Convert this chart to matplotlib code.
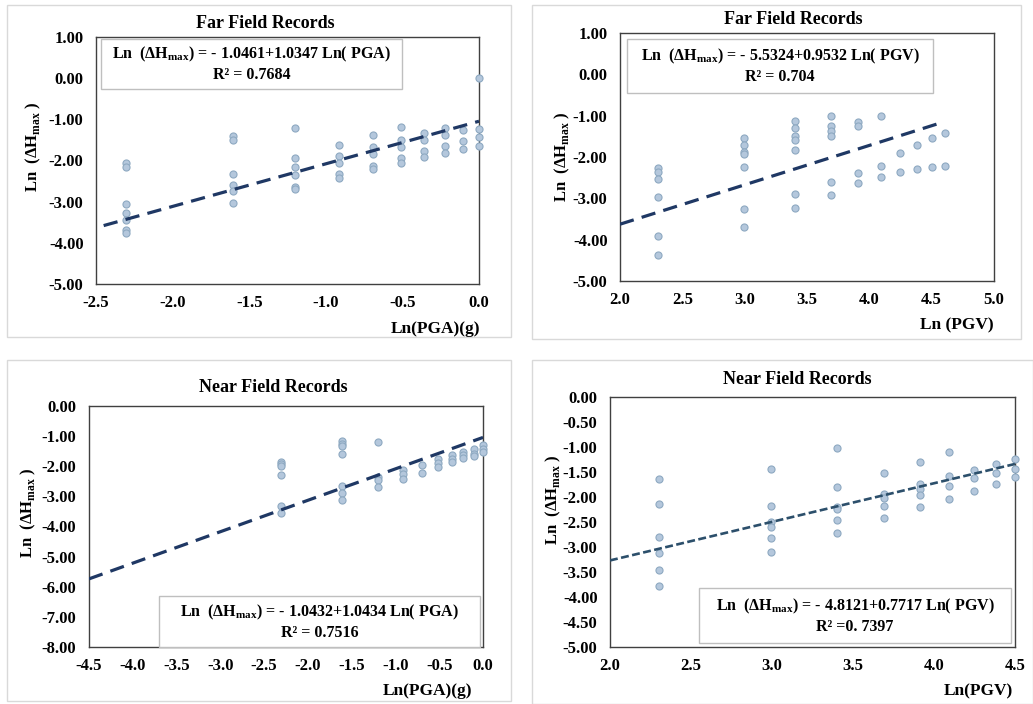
import matplotlib
matplotlib.use("Agg")
import matplotlib.pyplot as plt
from matplotlib.patches import Rectangle

plt.rcParams["font.family"] = ["Liberation Serif", "DejaVu Serif"]
plt.rcParams["font.weight"] = "bold"
plt.rcParams["mathtext.fontset"] = "custom"
plt.rcParams["mathtext.rm"] = "Liberation Serif:bold"

W, H = 1033, 704

# ---- data ----
# Far field, ln(PGA)
ff_pga_x = [-2.303] * 7 + [-1.609] * 6 + [-1.204] * 6 + [-0.916] * 5 + [-0.693] * 5 \
    + [-0.511] * 5 + [-0.357] * 4 + [-0.223] * 4 + [-0.105] * 3 + [0.0] * 4
ff_pga_y = [-2.07, -2.17, -3.06, -3.28, -3.44, -3.68, -3.75,
            -1.41, -1.51, -2.34, -2.59, -2.75, -3.04,
            -1.20, -1.93, -2.17, -2.35, -2.65, -2.70,
            -1.63, -1.89, -2.07, -2.34, -2.43,
            -1.38, -1.67, -1.85, -2.13, -2.21,
            -1.18, -1.50, -1.67, -1.95, -2.05,
            -1.34, -1.50, -1.76, -1.92,
            -1.20, -1.37, -1.64, -1.82,
            -1.26, -1.52, -1.73,
            0.0, -1.23, -1.43, -1.64]

# Far field, ln(PGV)
ff_pgv_x = [2.303] * 6 + [2.996] * 7 + [3.401] * 7 + [3.689] * 6 + [3.912] * 4 \
    + [4.094] * 3 + [4.248] * 2 + [4.382] * 2 + [4.500] * 2 + [4.605] * 2
ff_pgv_y = [-2.26, -2.37, -2.53, -2.96, -3.91, -4.38,
            -1.54, -1.70, -1.87, -1.92, -2.23, -3.26, -3.69,
            -1.14, -1.30, -1.50, -1.60, -1.83, -2.90, -3.24,
            -1.02, -1.25, -1.36, -1.50, -2.61, -2.92,
            -1.15, -1.25, -2.38, -2.64,
            -1.02, -2.21, -2.49,
            -1.90, -2.36,
            -1.71, -2.29,
            -1.55, -2.23,
            -1.43, -2.21]

# Near field, ln(PGA)
nf_pga_x = [-2.303] * 6 + [-1.609] * 7 + [-1.204] * 4 + [-0.916] * 3 + [-0.693] * 2 \
    + [-0.511] * 3 + [-0.357] * 3 + [-0.223] * 3 + [-0.105] * 3 + [0.0] * 3
nf_pga_y = [-1.86, -1.94, -1.99, -2.29, -3.31, -3.54,
            -1.16, -1.25, -1.34, -1.60, -2.65, -2.88, -3.12,
            -1.21, -2.37, -2.47, -2.70,
            -2.13, -2.27, -2.42,
            -1.95, -2.21,
            -1.76, -1.89, -2.04,
            -1.64, -1.77, -1.87,
            -1.52, -1.64, -1.74,
            -1.42, -1.58, -1.66,
            -1.28, -1.44, -1.53]

# Near field, ln(PGV)
nf_pgv_x = [2.303] * 6 + [2.996] * 6 + [3.401] * 6 + [3.689] * 5 + [3.912] * 5 \
    + [4.094] * 4 + [4.248] * 3 + [4.382] * 3 + [4.500] * 3
nf_pgv_y = [-1.64, -2.13, -2.79, -3.11, -3.45, -3.78,
            -1.43, -2.17, -2.49, -2.59, -2.81, -3.10,
            -1.02, -1.80, -2.19, -2.24, -2.46, -2.71,
            -1.52, -1.94, -2.01, -2.18, -2.42,
            -1.29, -1.73, -1.84, -1.96, -2.19,
            -1.10, -1.58, -1.78, -2.03,
            -1.45, -1.62, -1.88,
            -1.33, -1.52, -1.74,
            -1.23, -1.44, -1.60]

# regression (intercept, slope, x range)
fits = [(-1.0461, 1.0347, -2.45, 0.0),
        (-5.5324, 0.9532, 2.0, 4.6),
        (-1.0432, 1.0434, -4.5, 0.0),
        (-4.8121, 0.7717, 2.0, 4.5)]
eq_texts = ["Ln  (ΔH$_{\\mathregular{max}}$) = - 1.0461+1.0347 Ln( PGA)\nR² = 0.7684",
            "Ln  (ΔH$_{\\mathregular{max}}$) = - 5.5324+0.9532 Ln( PGV)\nR² = 0.704",
            "Ln  (ΔH$_{\\mathregular{max}}$) = - 1.0432+1.0434 Ln( PGA)\nR² = 0.7516",
            "Ln  (ΔH$_{\\mathregular{max}}$) = - 4.8121+0.7717 Ln( PGV)\nR² =0. 7397"]
titles = ["Far Field Records", "Far Field Records", "Near Field Records", "Near Field Records"]
xlabels = ["Ln(PGA)(g)", "Ln (PGV)", "Ln(PGA)(g)", "Ln(PGV)"]
xlims = [(-2.5, 0.0), (2.0, 5.0), (-4.5, 0.0), (2.0, 4.5)]
xsteps = [0.5, 0.5, 0.5, 0.5]
ylims = [(-5.0, 1.0), (-5.0, 1.0), (-8.0, 0.0), (-5.0, 0.0)]
ysteps = [1.0, 1.0, 1.0, 0.5]
data = [(ff_pga_x, ff_pga_y), (ff_pgv_x, ff_pgv_y), (nf_pga_x, nf_pga_y), (nf_pgv_x, nf_pgv_y)]

# ---- layout in pixels ----
axes_px = [(96, 37, 479, 284), (620, 33, 994, 281), (89, 406, 483, 647), (610, 397, 1015, 647)]
frame_px = [(7, 5, 511, 337), (532, 5, 1021, 339), (7, 360, 511, 701), (532, 360, 1033, 704)]
title_px = [(265, 23), (793, 20), (273, 388), (797, 379)]
xlab_px = [(435, 329), (957, 325), (427, 691), (978, 691)]
ylab_px = [(33, 147), (562, 157), (28, 513), (553, 500)]
box_px = [(101, 39, 402, 89), (627, 39, 933, 93), (159, 596, 480, 647), (699, 588, 1011, 643)]
line_styles = [dict(color="#1F3864", lw=2.3, dashes=(4.5, 2.6)),
               dict(color="#1F3864", lw=2.3, dashes=(4.5, 2.6)),
               dict(color="#1F3864", lw=2.3, dashes=(4.5, 2.6)),
               dict(color="#2C4F6B", lw=1.9, dashes=(3.0, 1.3))]

fig = plt.figure(figsize=(W / 100, H / 100), dpi=100)
fig.patch.set_facecolor("white")


def fx(x):
    return x / W


def fy(y):
    return 1 - y / H


for i in range(4):
    fl, ft, fr, fb = frame_px[i]
    fig.patches.append(Rectangle((fx(fl), fy(fb)), fx(fr) - fx(fl), fy(ft) - fy(fb),
                                 transform=fig.transFigure, fill=False,
                                 edgecolor="#D9D9D9", lw=1.0))

    l, t, r, b = axes_px[i]
    ax = fig.add_axes([fx(l), fy(b), fx(r) - fx(l), fy(t) - fy(b)])
    x, y = data[i]
    ax.scatter(x, y, s=26, facecolor="#B4C7DC", edgecolor="#8EA9C1", lw=0.8, zorder=3,
               clip_on=False)

    a, k, x0, x1 = fits[i]
    ax.plot([x0, x1], [a + k * x0, a + k * x1], solid_capstyle="butt",
            dash_capstyle="butt", zorder=4, **line_styles[i])

    ax.set_xlim(*xlims[i])
    ax.set_ylim(*ylims[i])
    n = int(round((xlims[i][1] - xlims[i][0]) / xsteps[i]))
    xt = [xlims[i][0] + j * xsteps[i] for j in range(n + 1)]
    ax.set_xticks(xt)
    ax.set_xticklabels([f"{v:.1f}" for v in xt])
    m = int(round((ylims[i][1] - ylims[i][0]) / ysteps[i]))
    yt = [ylims[i][0] + j * ysteps[i] for j in range(m + 1)]
    ax.set_yticks(yt)
    ax.set_yticklabels([f"{v:.2f}" for v in yt])
    ax.tick_params(axis="both", length=0, labelsize=12)
    ax.tick_params(axis="y", pad=9)
    ax.tick_params(axis="x", pad=8)
    for lbl in ax.get_xticklabels() + ax.get_yticklabels():
        lbl.set_fontweight("bold")
        lbl.set_fontfamily("Liberation Serif")
    for sp in ax.spines.values():
        sp.set_color("#404040")
        sp.set_linewidth(1.0)

    # equation box
    bl, bt, br, bb = box_px[i]
    ax.add_patch(Rectangle(((bl - l) / (r - l), (b - bb) / (b - t)),
                           (br - bl) / (r - l), (bb - bt) / (b - t),
                           transform=ax.transAxes, facecolor="white",
                           edgecolor="#BFBFBF", lw=1.0, zorder=5, clip_on=False))
    ax.text(((bl + br) / 2 - l) / (r - l), (b - (bt + bb) / 2) / (b - t), eq_texts[i],
            transform=ax.transAxes, ha="center", va="center", fontsize=11.5,
            fontweight="bold", linespacing=1.25, zorder=6)

    tx, ty = title_px[i]
    fig.text(fx(tx), fy(ty), titles[i], ha="center", va="center", fontsize=13, fontweight="bold")
    lx, ly = xlab_px[i]
    fig.text(fx(lx), fy(ly), xlabels[i], ha="center", va="center", fontsize=12.5, fontweight="bold")
    yx, yy = ylab_px[i]
    fig.text(fx(yx), fy(yy), "Ln  (ΔH$_{\\mathregular{max}}$ )", ha="center", va="center",
             rotation=90, fontsize=12, fontweight="bold")

fig.savefig("out.png", dpi=100)
